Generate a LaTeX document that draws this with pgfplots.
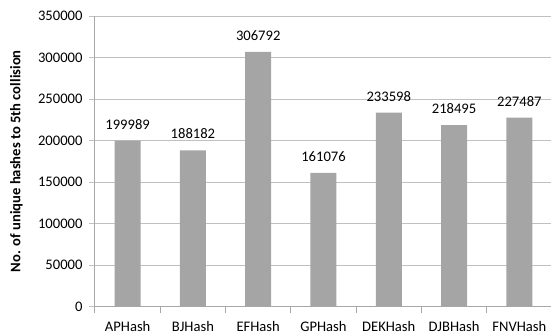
\documentclass[border=0pt]{standalone}
\usepackage{fontspec}
\setmainfont{Carlito}
\usepackage{pgfplots}
\pgfplotsset{compat=1.18}
\definecolor{barfill}{HTML}{A5A5A5}
\definecolor{gridcol}{HTML}{C0C0C0}
\definecolor{axiscol}{HTML}{A8A8A8}
\begin{document}
\begin{tikzpicture}[font=\fontsize{14.6}{17}\selectfont]
\begin{axis}[
  at={(0pt,0pt)}, anchor=south west,
  scale only axis,
  width=457pt, height=290.5pt,
  xmin=-0.5, xmax=6.5,
  ymin=0, ymax=350000,
  ybar, bar width=26pt,
  axis x line*=bottom,
  axis y line*=left,
  axis line style={draw=axiscol, line width=1pt},
  y axis line style={-},
  x axis line style={-},
  xtick={0,...,6},
  xticklabels={APHash,BJHash,EFHash,GPHash,DEKHash,DJBHash,FNVHash},
  minor xtick={-0.5,0.5,...,6.5},
  major x tick style={draw=none},
  minor x tick style={draw=axiscol, line width=1pt},
  minor tick length=6pt,
  ytick distance=50000,
  major tick length=6pt,
  tick align=outside,
  y tick style={draw=gridcol, line width=1pt},
  ymajorgrids,
  major grid style={draw=gridcol, line width=1pt},
  scaled y ticks=false,
  /pgf/number format/.cd, 1000 sep={}, fixed, precision=0, assume math mode=true,
  /pgfplots/.cd,
  xticklabel style={anchor=base, inner sep=0pt, yshift=-19pt},
  yticklabel style={xshift=-3pt},
  every axis y label/.style={at={(rel axis cs:0,0.5)}, xshift=-78.5pt, rotate=90, anchor=center, font=\fontsize{14.6}{17}\selectfont\bfseries},
  ylabel={No. of unique hashes to 5th collision},
  nodes near coords,
  every node near coord/.append style={anchor=base, yshift=11.5pt, color=black},
]
\addplot[fill=barfill, draw=none] coordinates {
  (0,199989) (1,188182) (2,306792) (3,161076) (4,233598) (5,218495) (6,227487)
};
\end{axis}
\pgfresetboundingbox
\path[use as bounding box] (-95pt,-28.5pt) rectangle (456pt,306.5pt);
\end{tikzpicture}
\end{document}
